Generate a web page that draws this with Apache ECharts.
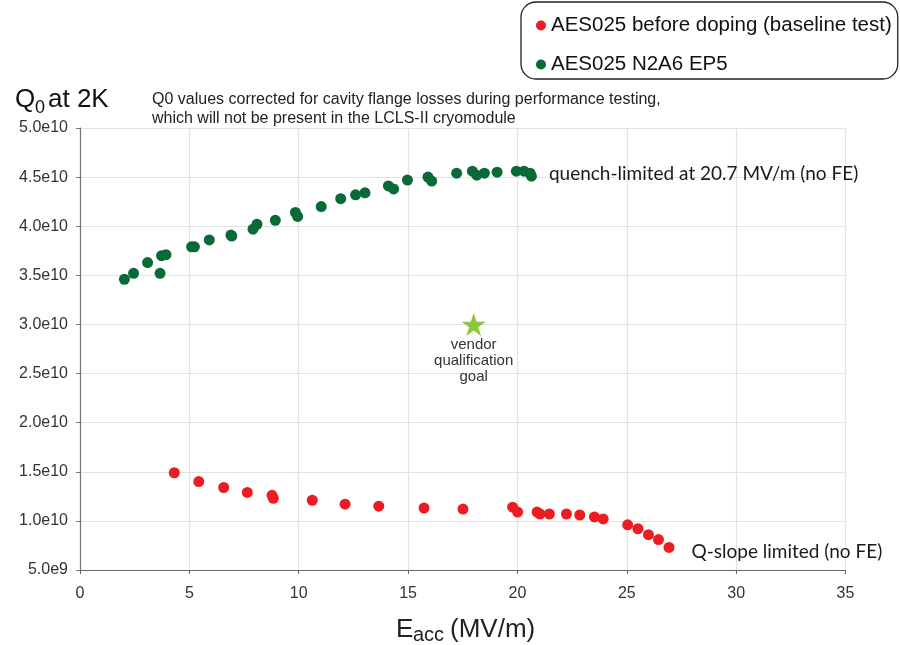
<!DOCTYPE html>
<html><head><meta charset="utf-8">
<script src="https://cdn.jsdelivr.net/npm/echarts@6/dist/echarts.min.js"></script>
<style>html,body{margin:0;padding:0;background:#fff}#c{width:900px;height:645px}</style>
</head><body><div id="c"></div>
<script>
// ---- data ----
const seriesNames = ['AES025 before doping (baseline test)', 'AES025 N2A6 EP5'];
const baselineE = [4.31, 5.43, 6.57, 7.65, 8.78, 8.84, 10.62, 12.12, 13.66, 15.73, 17.51, 19.78, 20.01, 20.90, 21.03, 21.46, 22.24, 22.85, 23.52, 23.92, 25.04, 25.51, 25.99, 26.45, 26.93];
const baselineQ = [1.49e10, 1.40e10, 1.34e10, 1.29e10, 1.26e10, 1.23e10, 1.21e10, 1.17e10, 1.15e10, 1.13e10, 1.12e10, 1.14e10, 1.09e10, 1.09e10, 1.07e10, 1.07e10, 1.07e10, 1.06e10, 1.04e10, 1.02e10, 0.96e10, 0.92e10, 0.86e10, 0.81e10, 0.73e10];
const dopedE = [2.03, 2.45, 3.09, 3.66, 3.73, 3.93, 5.10, 5.23, 5.91, 6.90, 6.94, 7.91, 8.09, 8.93, 9.85, 9.95, 11.03, 11.92, 12.60, 13.03, 14.10, 14.34, 14.97, 15.91, 16.08, 17.22, 17.94, 18.14, 18.49, 19.07, 19.95, 20.30, 20.58, 20.64];
const dopedQ = [3.46e10, 3.52e10, 3.63e10, 3.52e10, 3.70e10, 3.71e10, 3.79e10, 3.79e10, 3.86e10, 3.91e10, 3.90e10, 3.97e10, 4.02e10, 4.06e10, 4.14e10, 4.10e10, 4.20e10, 4.28e10, 4.32e10, 4.34e10, 4.41e10, 4.38e10, 4.47e10, 4.50e10, 4.46e10, 4.54e10, 4.56e10, 4.52e10, 4.54e10, 4.55e10, 4.56e10, 4.56e10, 4.54e10, 4.51e10];
const goalE = [18];
const goalQ = [3.0e10];
const yTickLabels = ['5.0e9', '1.0e10', '1.5e10', '2.0e10', '2.5e10', '3.0e10', '3.5e10', '4.0e10', '4.5e10', '5.0e10'];
const annotations = {
  baseline: 'Q-slope limited (no FE)',
  doped: 'quench-limited at 20.7 MV/m (no FE)',
  goal: 'vendor\nqualification\ngoal'
};
// ---- styles ----
const FONT = 'Liberation Sans, Arial, sans-serif';
const NOTE_FONT = 'Lato, Carlito, sans-serif';
const RED = '#ed1c24', GREEN = '#0a6a37', LIME = '#8dc63f';
const STAR = 'path://M50,0 L61.8,35.1 L98.9,35.1 L68.9,57 L80.2,92.1 L50,70.4 L19.8,92.1 L31.1,57 L1.1,35.1 L38.2,35.1 Z';

function build(E, Q, note, labelOpts) {
  return E.map((e, i) => {
    const item = { value: [e, Q[i]] };
    if (i === E.length - 1) {
      item.label = Object.assign({
        show: true, position: 'right', formatter: note,
        fontFamily: NOTE_FONT, fontSize: 19, color: '#1a1a1a'
      }, labelOpts);
    }
    return item;
  });
}

const chart = echarts.init(document.getElementById('c'), null, { renderer: 'canvas' });
chart.setOption({
  animation: false,
  backgroundColor: '#fff',
  grid: { left: 80, right: 54.5, top: 128, bottom: 75, containLabel: false },
  legend: {
    data: seriesNames,
    orient: 'vertical',
    left: 521, top: 2,
    padding: [13, 6, 4, 15],
    itemGap: 18,
    itemWidth: 10, itemHeight: 10,
    icon: 'circle',
    selectedMode: false,
    borderColor: '#222', borderWidth: 1.3, borderRadius: 15,
    textStyle: { fontFamily: FONT, fontSize: 20.5, color: '#111', lineHeight: 21 }
  },
  xAxis: {
    type: 'value', min: 0, max: 35, interval: 5,
    axisLine: { show: true, onZero: false, lineStyle: { color: '#666', width: 1.2 } },
    axisTick: { show: true, length: 4, lineStyle: { color: '#666' } },
    axisLabel: { fontFamily: FONT, fontSize: 16, color: '#333', margin: 16 },
    splitLine: { show: true, lineStyle: { color: '#e2e2e2', width: 1.2 } }
  },
  yAxis: {
    type: 'value', min: 5e9, max: 5e10, interval: 5e9,
    axisLine: { show: true, onZero: false, lineStyle: { color: '#777', width: 1.2 } },
    axisTick: { show: true, length: 4, lineStyle: { color: '#777' } },
    axisLabel: {
      fontFamily: FONT, fontSize: 16, color: '#333', margin: 12,
      formatter: v => yTickLabels[Math.round((v - 5e9) / 5e9)]
    },
    splitLine: { show: true, lineStyle: { color: '#e2e2e2', width: 1.2 } }
  },
  series: [
    {
      name: seriesNames[0], type: 'scatter', symbol: 'circle', symbolSize: 11,
      itemStyle: { color: RED, opacity: 1 },
      data: build(baselineE, baselineQ, annotations.baseline, { distance: 17, offset: [0, 4] })
    },
    {
      name: seriesNames[1], type: 'scatter', symbol: 'circle', symbolSize: 11,
      itemStyle: { color: GREEN, opacity: 1 },
      data: build(dopedE, dopedQ, annotations.doped, { distance: 12, offset: [0, -2] })
    },
    {
      name: 'goal', type: 'scatter', symbol: STAR, symbolSize: [24, 23],
      itemStyle: { color: LIME, opacity: 1 },
      label: {
        show: true, position: 'bottom', distance: 1, formatter: annotations.goal,
        fontFamily: FONT, fontSize: 15, lineHeight: 16, color: '#333', align: 'center'
      },
      data: goalE.map((e, i) => [e, goalQ[i]])
    }
  ],
  graphic: [
    { type: 'text', left: 15, top: 87, style: { text: 'Q', font: '26px ' + FONT, fill: '#111' } },
    { type: 'text', left: 35, top: 99, style: { text: '0', font: '18px ' + FONT, fill: '#111' } },
    { type: 'text', left: 48, top: 87, style: { text: 'at 2K', font: '26px ' + FONT, fill: '#111' } },
    { type: 'text', left: 152, top: 92, style: { text: 'Q0 values corrected for cavity flange losses during performance testing,', font: '16px ' + FONT, fill: '#222' } },
    { type: 'text', left: 152, top: 111, style: { text: 'which will not be present in the LCLS-II cryomodule', font: '16px ' + FONT, fill: '#222' } },
    { type: 'text', left: 396, top: 617, style: { text: 'E', font: '26px ' + FONT, fill: '#222' } },
    { type: 'text', left: 413, top: 625, style: { text: 'acc', font: '20px ' + FONT, fill: '#222' } },
    { type: 'text', left: 450, top: 617, style: { text: '(MV/m)', font: '26px ' + FONT, fill: '#222' } }
  ]
});
</script></body></html>
